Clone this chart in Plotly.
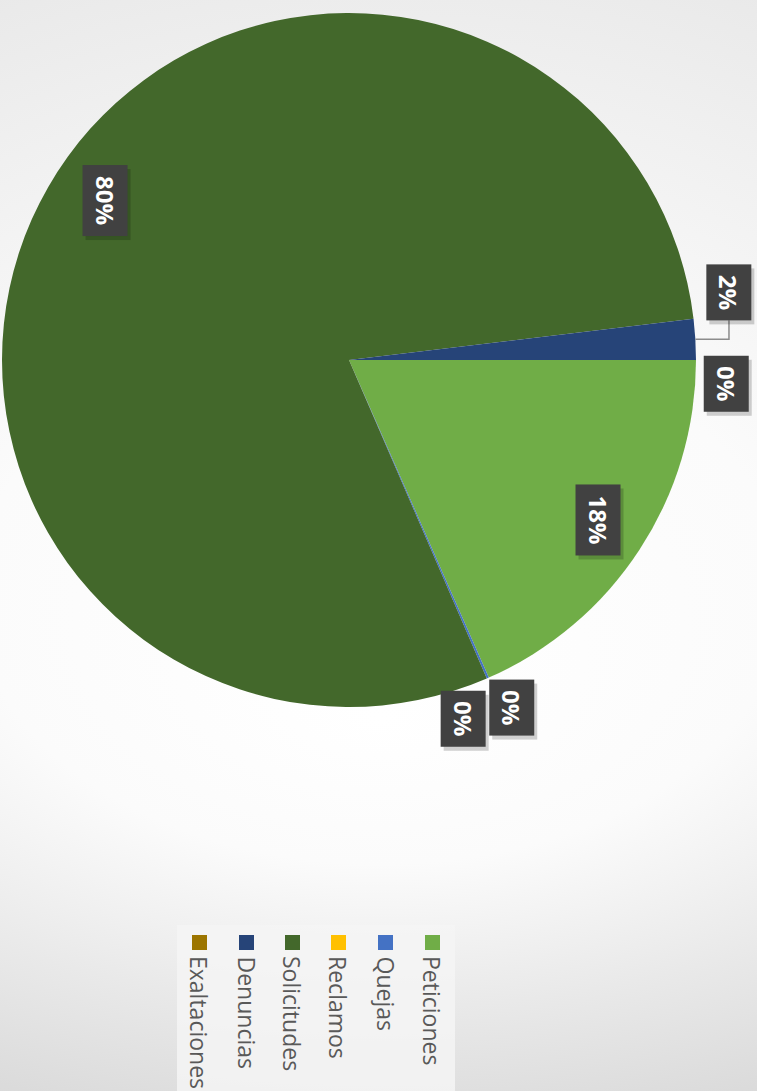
import base64
import math
import plotly.graph_objects as go

# ---------------- data ----------------
categories = ["Peticiones", "Quejas", "Reclamos", "Solicitudes", "Denuncias", "Exaltaciones"]
values = [184, 1, 0, 796, 19, 0]
colors = ["#70AD47", "#4472C4", "#FFC000", "#43682B", "#264478", "#9C7500"]

# ---------------- layout helpers ----------------
W, H = 757, 1091
CX, CY, R = 349, 360, 347


def px(x):
    return x / W


def py(y):
    return 1 - y / H


# label placement style per slice: (radius factor, angle offset in degrees)
label_style = {
    "Peticiones": (0.853, -0.4),
    "Quejas": (1.107, -1.5),
    "Reclamos": (1.086, 5.8),
    "Solicitudes": (0.841, 3.3),
    "Denuncias": (1.112, -6.6),
    "Exaltaciones": (1.09, 3.6),
}

total = sum(values)
fracs = [v / total for v in values]

fig = go.Figure()
fig.add_trace(go.Pie(
    labels=categories,
    values=values,
    marker=dict(colors=colors, line=dict(width=0)),
    sort=False,
    direction="clockwise",
    rotation=90,
    textinfo="none",
    hoverinfo="label+percent",
    showlegend=False,
    domain=dict(x=[px(CX - R), px(CX + R)], y=[py(CY + R), py(CY - R)]),
))

# background gradient (bright zone low-centre, darker toward top/bottom corners)
svg = f'''<svg xmlns="http://www.w3.org/2000/svg" width="{W}" height="{H}" viewBox="0 0 {W} {H}">
<defs><radialGradient id="g" gradientUnits="userSpaceOnUse" cx="380" cy="300" r="900" fx="380" fy="720"
 gradientTransform="translate(380 0) scale(1.5 1) translate(-380 0)">
<stop offset="0" stop-color="#ffffff"/><stop offset="0.3" stop-color="#fbfbfb"/>
<stop offset="0.6" stop-color="#e9e9e9"/><stop offset="0.85" stop-color="#dbdbdb"/>
<stop offset="1" stop-color="#d7d7d7"/></radialGradient></defs>
<rect width="{W}" height="{H}" fill="url(#g)"/></svg>'''
src = "data:image/svg+xml;base64," + base64.b64encode(svg.encode()).decode()
fig.add_layout_image(dict(source=src, xref="paper", yref="paper", x=0, y=1,
                          sizex=1, sizey=1, sizing="stretch", layer="below"))

annotations = []
shapes = []

# data labels (rotated 90°)
start = 0.0
for cat, f in zip(categories, fracs):
    mid = start + f * 180.0  # degrees, screen clockwise from +x
    start += f * 360.0
    k, off = label_style[cat]
    a = math.radians(mid + off)
    lx = CX + k * R * math.cos(a)
    ly = CY + k * R * math.sin(a)
    txt = f"{int(f * 100 + 0.5)}%"
    wbox = 56 if len(txt) > 2 else 41
    # shadow
    annotations.append(dict(x=px(lx + 3), y=py(ly + 4), xref="paper", yref="paper",
                            text=txt, showarrow=False, textangle=90,
                            font=dict(family="Open Sans", size=24, color="rgba(0,0,0,0)"),
                            bgcolor="rgba(0,0,0,0.18)", borderpad=7, width=wbox, height=30,
                            xanchor="center", yanchor="middle"))
    annotations.append(dict(x=px(lx), y=py(ly), xref="paper", yref="paper",
                            text=f"<b>{txt}</b>", showarrow=False, textangle=90,
                            font=dict(family="Open Sans", size=24, color="white"),
                            bgcolor="#414141", borderpad=7, width=wbox, height=30,
                            xanchor="center", yanchor="middle"))
    if cat == "Denuncias":
        ea = math.radians(mid)
        ex = CX + R * math.cos(ea)
        ey = CY + R * math.sin(ea)
        top = ly + (wbox + 14) / 2
        shapes.append(dict(type="path", xref="paper", yref="paper",
                           path=f"M {px(ex)},{py(ey)} L {px(lx)},{py(ey)} L {px(lx)},{py(top)}",
                           line=dict(color="#8c8c8c", width=1.5)))

# legend (rotated)
shapes.append(dict(type="rect", xref="paper", yref="paper", x0=px(177), x1=px(455),
                   y0=py(1091), y1=py(925), fillcolor="rgba(244,244,244,0.85)",
                   line=dict(width=0), layer="below"))
leg_x = [432.5, 385.5, 338.5, 292.5, 246.5, 199.5]
for cat, col, lxp in zip(categories, colors, leg_x):
    shapes.append(dict(type="rect", xref="paper", yref="paper",
                       x0=px(lxp - 7.5), x1=px(lxp + 7.5), y0=py(950), y1=py(935),
                       fillcolor=col, line=dict(width=0)))
    annotations.append(dict(x=px(lxp), y=py(955), xref="paper", yref="paper",
                            text=cat, showarrow=False, textangle=90,
                            font=dict(family="Open Sans", size=23, color="#595959"),
                            xanchor="center", yanchor="top", borderpad=0))

fig.update_layout(
    width=W, height=H,
    margin=dict(l=0, r=0, t=0, b=0),
    paper_bgcolor="#e6e6e6",
    plot_bgcolor="rgba(0,0,0,0)",
    annotations=annotations,
    shapes=shapes,
)

fig.write_html("out.html")
